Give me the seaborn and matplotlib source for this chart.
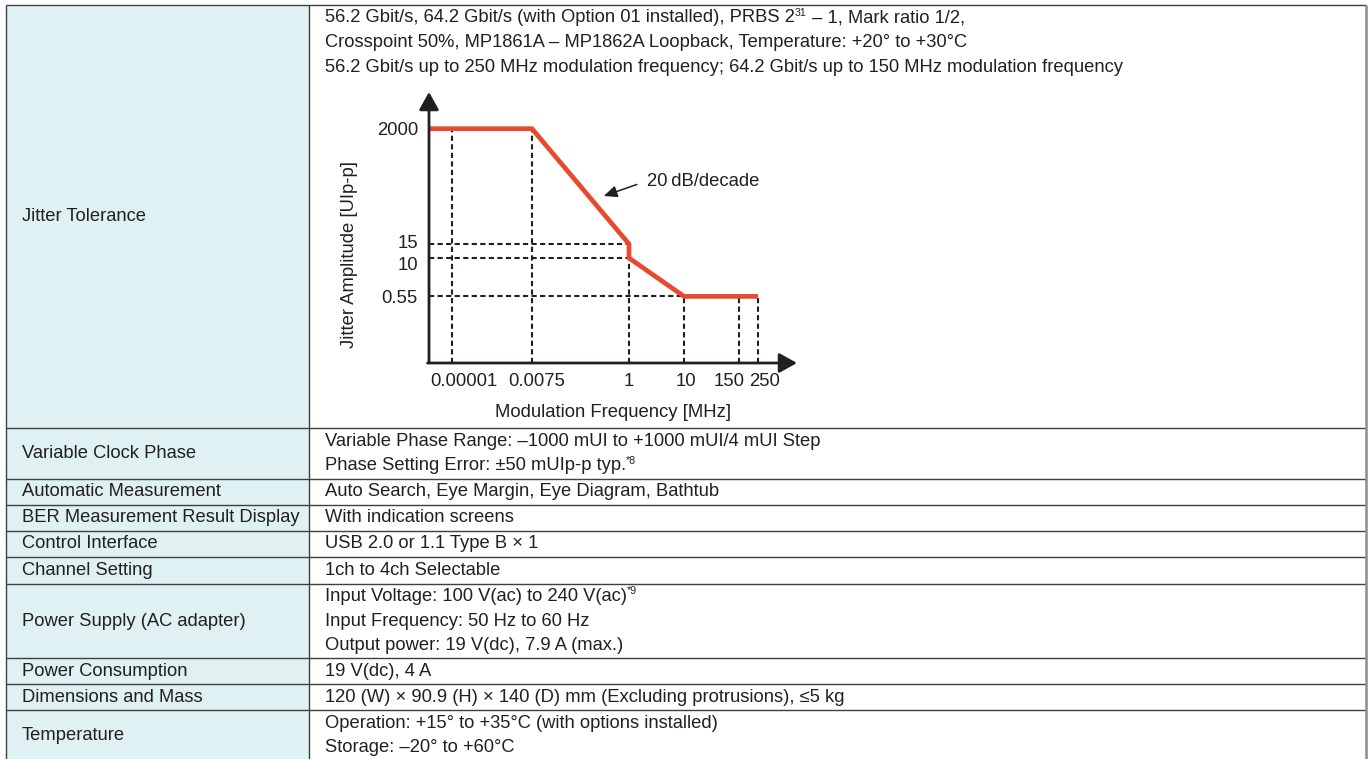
import numpy as np
import matplotlib
matplotlib.use("Agg")
import matplotlib.pyplot as plt
import matplotlib.transforms as mtransforms
from matplotlib.patches import Rectangle
import seaborn as sns

# --- table content ---
# a line given as a list alternates normal text / superscript
ROW_LABELS = [
    "Jitter Tolerance",
    "Variable Clock Phase",
    "Automatic Measurement",
    "BER Measurement Result Display",
    "Control Interface",
    "Channel Setting",
    "Power Supply (AC adapter)",
    "Power Consumption",
    "Dimensions and Mass",
    "Temperature",
]
ROW_VALUES = [
    [["56.2 Gbit/s, 64.2 Gbit/s (with Option 01 installed), PRBS 2", "31", " – 1, Mark ratio 1/2,"],
     "Crosspoint 50%, MP1861A – MP1862A Loopback, Temperature: +20° to +30°C",
     "56.2 Gbit/s up to 250 MHz modulation frequency; 64.2 Gbit/s up to 150 MHz modulation frequency"],
    ["Variable Phase Range: –1000 mUI to +1000 mUI/4 mUI Step",
     ["Phase Setting Error: ±50 mUIp-p typ.", "*8"]],
    ["Auto Search, Eye Margin, Eye Diagram, Bathtub"],
    ["With indication screens"],
    ["USB 2.0 or 1.1 Type B × 1"],
    ["1ch to 4ch Selectable"],
    [["Input Voltage: 100 V(ac) to 240 V(ac)", "*9"],
     "Input Frequency: 50 Hz to 60 Hz",
     "Output power: 19 V(dc), 7.9 A (max.)"],
    ["19 V(dc), 4 A"],
    ["120 (W) × 90.9 (H) × 140 (D) mm (Excluding protrusions), ≤5 kg"],
    ["Operation: +15° to +35°C (with options installed)",
     "Storage: –20° to +60°C"],
]

# --- jitter tolerance mask ---
FREQ_TICKS = [0.00001, 0.0075, 1, 10, 150, 250]
FREQ_TICK_LABELS = ["0.00001", "0.0075", "1", "10", "150", "250"]
AMP_TICKS = [0.55, 10, 15, 2000]
AMP_TICK_LABELS = ["0.55", "10", "15", "2000"]
MASK_FREQ = [1e-6, 0.0075, 1, 1, 10, 250]
MASK_AMP = [2000, 2000, 15, 10, 0.55, 0.55]
VGUIDE_TOP = [2000, 2000, 10, 0.55, 0.55, 0.55]
HGUIDE_AMP = [15, 10, 0.55]
HGUIDE_END = [1, 1, 10]

# layout (pixels)
W, H = 1370, 759
LEFT, DIV, RIGHT, TOP = 6.5, 309, 1366, 5
ROW_HEIGHTS = [423, 51, 26, 26, 26, 27, 74, 26, 26, 51]
LINE_STEP = 24.5
LABEL_BG = "#dff1f2"
INK = "#231f20"
RED = "#e84a2f"
FS = 13.2
CFS = 13.3

sns.set_theme(style="white")
plt.rcParams["font.family"] = ["Liberation Sans", "DejaVu Sans"]
plt.rcParams["text.color"] = INK

fig = plt.figure(figsize=(W / 100, H / 100), dpi=100)
tab = fig.add_axes([0, 0, 1, 1])
tab.set_xlim(0, W)
tab.set_ylim(H, 0)
tab.axis("off")


def rich_line(ax, x, y, parts):
    if isinstance(parts, str):
        parts = [parts]
    base = ax.text(x, y, parts[0], fontsize=FS, va="center", ha="left")
    prev = base
    for k, txt in enumerate(parts[1:], start=1):
        if k % 2:  # superscript
            prev = ax.annotate(txt, xy=(1, 0.5), xycoords=(prev, base), fontsize=FS * 0.58,
                               va="bottom", ha="left")
        else:
            prev = ax.annotate(txt, xy=(1, 0.5), xycoords=(prev, base), fontsize=FS,
                               va="center", ha="left")


edges = TOP + np.concatenate([[0], np.cumsum(ROW_HEIGHTS)])
tab.add_patch(Rectangle((LEFT, TOP), DIV - LEFT, edges[-1] - TOP, fc=LABEL_BG, ec="none", zorder=0))
tab.hlines(edges, LEFT, RIGHT, colors="#3f3f3f", lw=1.0, zorder=2)
tab.vlines([LEFT, DIV], TOP, edges[-1], colors="#3f3f3f", lw=1.0, zorder=2)
tab.vlines(RIGHT, TOP, edges[-1], colors="#8c8c8c", lw=1.8, zorder=2)

for i, (lab, vals) in enumerate(zip(ROW_LABELS, ROW_VALUES)):
    y0, y1 = edges[i], edges[i + 1]
    mid = (y0 + y1) / 2
    tab.text(22, mid, lab, fontsize=FS, va="center", ha="left")
    if i == 0:
        ys = [18 + LINE_STEP * k for k in range(len(vals))]
    else:
        ys = [mid + LINE_STEP * (k - (len(vals) - 1) / 2) for k in range(len(vals))]
    for yy, v in zip(ys, vals):
        rich_line(tab, 325, yy, v)

# --- schematic jitter chart ---
LX = [-6, -5, np.log10(0.0075), 0, 1, np.log10(150), np.log10(250), 3]
PX = [0, 23, 103, 200, 255, 310, 329, 368]
LY = [-1, np.log10(0.55), 1, np.log10(15), np.log10(2000), 4]
PY = [0, 66.6, 105, 119, 234.3, 271]


def fwd_x(v):
    return np.interp(np.log10(np.clip(v, 1e-12, None)), LX, PX)


def inv_x(p):
    return 10 ** np.interp(p, PX, LX)


def fwd_y(v):
    return np.interp(np.log10(np.clip(v, 1e-12, None)), LY, PY)


def inv_y(p):
    return 10 ** np.interp(p, PY, LY)


ax = fig.add_axes([429 / W, (H - 363) / H, 368 / W, 271 / H])
ax.patch.set_alpha(0)
ax.set_xscale("function", functions=(fwd_x, inv_x))
ax.set_yscale("function", functions=(fwd_y, inv_y))
ax.set_xlim(1e-6, 1e3)
ax.set_ylim(0.1, 1e4)
for s in ax.spines.values():
    s.set_visible(False)

dash = (0, (2.5, 1.6))
ax.vlines(FREQ_TICKS, 0.1, VGUIDE_TOP, colors=INK, linestyles=[dash], lw=1.5, zorder=2)
ax.hlines(HGUIDE_AMP, 1e-6, HGUIDE_END, colors=INK, linestyles=[dash], lw=1.5, zorder=2)
sns.lineplot(x=MASK_FREQ, y=MASK_AMP, ax=ax, sort=False, estimator=None,
             color=RED, lw=3.4, zorder=3)
for line in ax.get_lines():
    line.set_solid_capstyle("butt")

arrow = dict(arrowstyle="-|>,head_length=0.9,head_width=0.5", lw=2, color=INK,
             shrinkA=0, shrinkB=0, mutation_scale=12)
ax.annotate("", xy=(0, 1), xytext=(0, 0), xycoords="axes fraction", arrowprops=arrow, zorder=4)
ax.annotate("", xy=(1, 0), xytext=(-0.004, 0), xycoords="axes fraction", arrowprops=arrow, zorder=4)

ax.set_xticks(FREQ_TICKS, FREQ_TICK_LABELS)
ax.set_yticks(AMP_TICKS, AMP_TICK_LABELS)
ax.minorticks_off()
ax.tick_params(axis="both", length=0, labelsize=CFS, colors=INK)
ax.tick_params(axis="x", pad=7)
ax.tick_params(axis="y", pad=8)
XLAB_SHIFT = [12, 5, 0, 2, -10, 7]
for lab, dx in zip(ax.get_xticklabels(), XLAB_SHIFT):
    lab.set_transform(lab.get_transform() + mtransforms.ScaledTranslation(dx / 100, 0, fig.dpi_scale_trans))
YLAB_SHIFT = [0, -5, 3, 0]
for lab, dy in zip(ax.get_yticklabels(), YLAB_SHIFT):
    lab.set_transform(lab.get_transform() + mtransforms.ScaledTranslation(0, dy / 100, fig.dpi_scale_trans))
ax.grid(False)

ax.set_xlabel("Modulation Frequency [MHz]", fontsize=CFS, labelpad=10, color=INK)
ax.set_ylabel("Jitter Amplitude [UIp-p]", fontsize=CFS, color=INK)
ax.yaxis.set_label_coords((350 - 429) / 368, (363 - 254) / 271)
ax.yaxis.label.set_va("center")

ax.annotate("20\u2009dB/decade", xy=(0.28, 115), xytext=(2.1, 217),
            fontsize=CFS, ha="left", va="center", color=INK,
            arrowprops=dict(arrowstyle="-|>,head_length=0.8,head_width=0.35", lw=1.1,
                            color=INK, shrinkA=5, shrinkB=0, mutation_scale=10,
                            relpos=(0, 0.5)))

fig.savefig("out.png", dpi=100)
